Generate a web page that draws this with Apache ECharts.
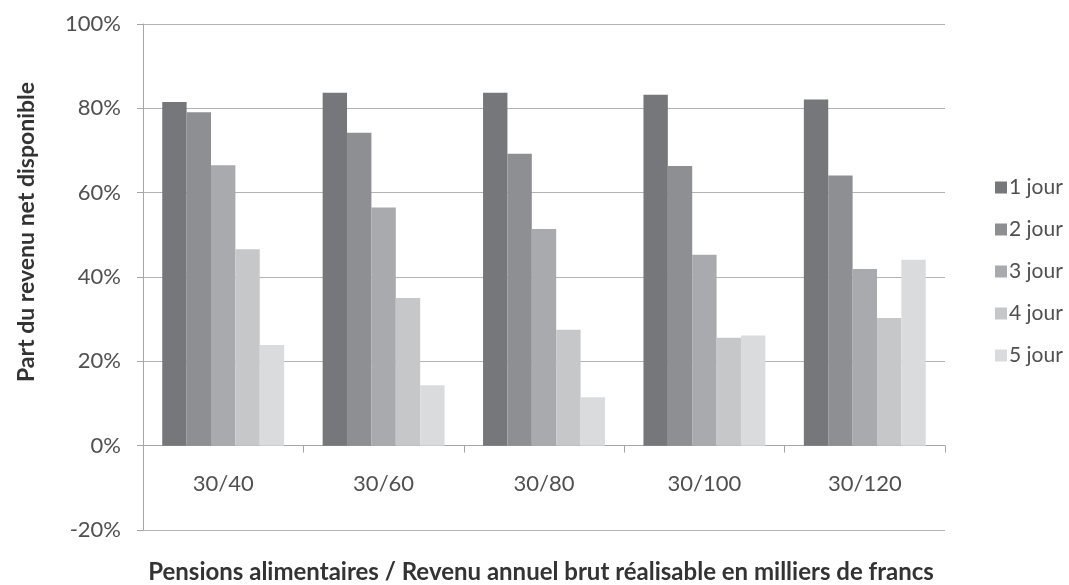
<!DOCTYPE html>
<html>
<head>
<meta charset="utf-8">
<script src="https://cdn.jsdelivr.net/npm/echarts@6/dist/echarts.min.js"></script>
<style>
html,body{margin:0;padding:0;background:#fff;}
#chart{width:1069px;height:585px;}
</style>
</head>
<body>
<div id="chart"></div>
<script>
var categories = ['30/40', '30/60', '30/80', '30/100', '30/120'];
var seriesNames = ['1 jour', '2 jour', '3 jour', '4 jour', '5 jour'];
var jour1 = [81.5, 83.7, 83.7, 83.2, 82.1];
var jour2 = [79.1, 74.2, 69.2, 66.3, 64.1];
var jour3 = [66.5, 56.5, 51.4, 45.3, 41.9];
var jour4 = [46.6, 35.0, 27.5, 25.6, 30.3];
var jour5 = [23.9, 14.3, 11.5, 26.1, 44.1];
var yTicks = { min: -20, max: 100, interval: 20 };
var yTitle = 'Part du revenu net disponible';
var xTitle = 'Pensions alimentaires / Revenu annuel brut réalisable en milliers de francs';

var colors = ['#76777b', '#8e8f93', '#a9aaae', '#c6c7c9', '#dadbdd'];
var allData = [jour1, jour2, jour3, jour4, jour5];
var FONT = 'Lato';

var chart = echarts.init(document.getElementById('chart'), null, { renderer: 'canvas' });
var series = seriesNames.map(function (n, i) {
  return {
    name: n,
    type: 'bar',
    data: allData[i],
    barGap: '0%',
    barCategoryGap: '24%',
    itemStyle: { color: colors[i] },
    emphasis: { disabled: true }
  };
});

chart.setOption({
  animation: false,
  backgroundColor: '#ffffff',
  textStyle: { fontFamily: FONT },
  grid: { left: 143, right: 124, top: 24, bottom: 55, containLabel: false },
  legend: {
    orient: 'vertical',
    left: 990,
    top: 172,
    itemWidth: 12,
    itemHeight: 12,
    itemGap: 21,
    icon: 'rect',
    data: seriesNames,
    textStyle: { fontFamily: FONT, fontSize: 21, color: '#505050', padding: [0, 0, 0, -3] }
  },
  xAxis: {
    type: 'category',
    data: categories,
    axisLine: { onZero: true, lineStyle: { color: '#a6a6a6', width: 1 } },
    axisTick: { show: true, alignWithLabel: false, length: 7, lineStyle: { color: '#a6a6a6' } },
    axisLabel: { fontFamily: FONT, fontSize: 22, color: '#505050', margin: -57 },
    splitLine: { show: false }
  },
  yAxis: {
    type: 'value',
    min: yTicks.min,
    max: yTicks.max,
    interval: yTicks.interval,
    axisLine: { show: true, lineStyle: { color: '#a6a6a6', width: 1 } },
    axisTick: { show: true, length: 6, lineStyle: { color: '#a6a6a6' } },
    axisLabel: { fontFamily: FONT, fontSize: 22, color: '#505050', margin: 22, formatter: '{value}%' },
    splitLine: { show: true, lineStyle: { color: '#b3b3b3', width: 1 } }
  },
  graphic: [
    {
      type: 'text',
      x: 27, y: 232,
      rotation: Math.PI / 2,
      style: { text: yTitle, font: 'bold 23px ' + FONT, fill: '#333333', align: 'center', verticalAlign: 'middle' }
    },
    {
      type: 'text',
      x: 541, y: 572,
      style: { text: xTitle, font: 'bold 24px ' + FONT, fill: '#333333', align: 'center', verticalAlign: 'middle' }
    }
  ],
  series: series
});
</script>
</body>
</html>
